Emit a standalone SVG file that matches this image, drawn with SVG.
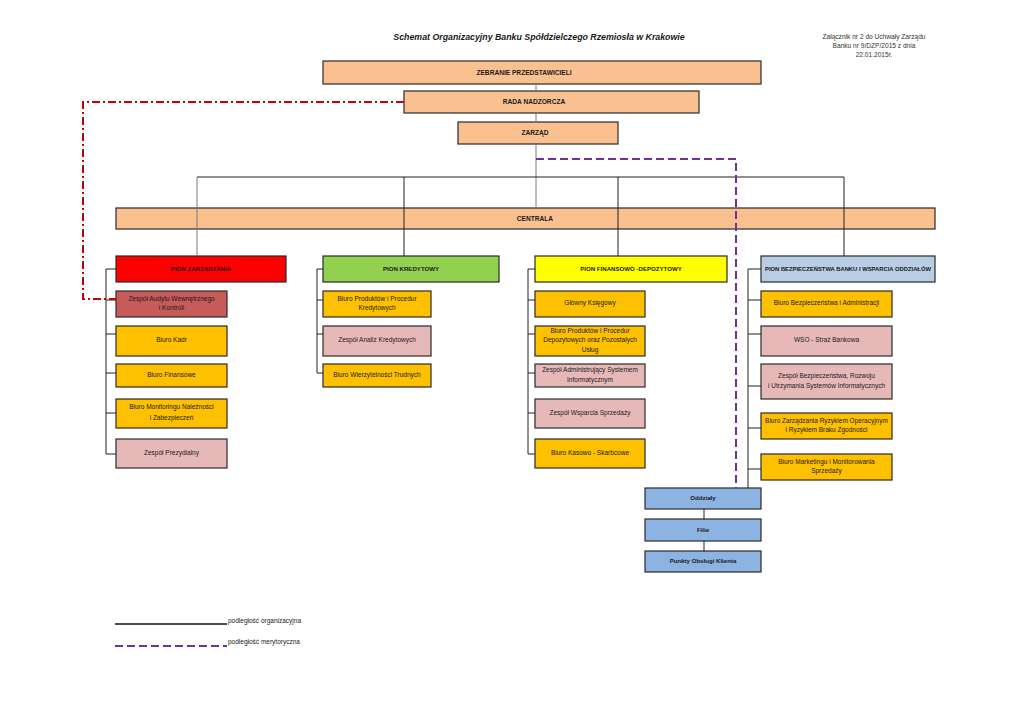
<svg xmlns="http://www.w3.org/2000/svg" width="1024" height="724" viewBox="0 0 1024 724">
<style>
.bx{stroke:#2a2a2a;stroke-width:1.2}
.peach{fill:#FAC090}.red{fill:#FF0000}.green{fill:#92D050}.yel{fill:#FFFF00}.lblue{fill:#B9CDE5}
.gold{fill:#FFC000}.pink{fill:#E6B9B8}.aud{fill:#C65B59}.blue{fill:#8DB3E2}
text{font-family:"Liberation Sans",Arial,sans-serif;fill:#1a1a1a;text-anchor:middle}
.t{font-size:6.5px}
.h{font-size:6.1px;font-weight:bold}
.top{font-size:6.6px;font-weight:bold}
.ann{font-size:6.6px;fill:#333}
.leg{font-size:6.5px;text-anchor:start}
.ln{stroke:#222;stroke-width:1;fill:none}
.gr{stroke:#7a7a7a;stroke-width:1;fill:none}
.mer{stroke:#7030A0;stroke-width:2;stroke-dasharray:8 4;fill:none}
.aud-l{stroke:#C8000A;stroke-width:2;stroke-dasharray:8 3 2 3;fill:none}
</style>

<text x="539" y="40" style="font-size:8.8px;font-weight:bold;font-style:italic">Schemat Organizacyjny Banku Spółdzielczego Rzemiosła w Krakowie</text>
<g id="annotation">
<text class="ann" x="874" y="38.5">Załącznik nr 2 do Uchwały Zarządu</text>
<text class="ann" x="874" y="47.5">Banku nr 9/DZP/2015 z dnia</text>
<text class="ann" x="874" y="57.3">22.01.2015r.</text>
</g>

<g id="n-zebranie"><rect class="bx peach" x="323" y="61" width="438" height="23"/><text class="top" x="524" y="74.8">ZEBRANIE PRZEDSTAWICIELI</text></g>
<g id="n-rada"><rect class="bx peach" x="404" y="91" width="295" height="22"/><text class="top" x="534" y="104.3">RADA NADZORCZA</text></g>
<g id="n-zarzad"><rect class="bx peach" x="458" y="122" width="160" height="22"/><text class="top" x="535" y="135.3">ZARZĄD</text></g>
<g id="n-centrala"><rect class="bx peach" x="116" y="208" width="819" height="21"/><text class="top" x="535" y="220.8">CENTRALA</text></g>

<g id="n-pion-zarz"><rect class="bx red" x="116" y="256" width="170" height="26"/><text class="h" x="201" y="271.2">PION ZARZĄDZANIA</text></g>
<g id="n-pion-kred"><rect class="bx green" x="323" y="256" width="176" height="26"/><text class="h" x="411" y="271.2">PION KREDYTOWY</text></g>
<g id="n-pion-fin"><rect class="bx yel" x="535" y="256" width="192" height="26"/><text class="h" x="631" y="271.2">PION FINANSOWO -DEPOZYTOWY</text></g>
<g id="n-pion-bezp"><rect class="bx lblue" x="761" y="256" width="174" height="26"/><text class="h" x="848" y="271.2" style="font-size:5.85px">PION BEZPIECZEŃSTWA BANKU I WSPARCIA ODDZIAŁÓW</text></g>

<g id="n-audyt"><rect class="bx aud" x="116" y="291" width="111" height="26"/><text class="t" x="171.5" y="300.7">Zespół Audytu Wewnętrznego</text><text class="t" x="171.5" y="310.3">i Kontroli</text></g>
<g id="n-kadr"><rect class="bx gold" x="116" y="326" width="111" height="30"/><text class="t" x="171.5" y="342">Biuro Kadr</text></g>
<g id="n-finansowe"><rect class="bx gold" x="116" y="364" width="111" height="23"/><text class="t" x="171.5" y="377.3">Biuro Finansowe</text></g>
<g id="n-monitoring"><rect class="bx gold" x="116" y="399" width="111" height="29"/><text class="t" x="171.5" y="409">Biuro Monitoringu Należności</text><text class="t" x="171.5" y="419.6">i Zabezpieczeń</text></g>
<g id="n-prezydialny"><rect class="bx pink" x="116" y="439" width="111" height="29"/><text class="t" x="171.5" y="454.6">Zespół Prezydialny</text></g>

<g id="n-prod-kred"><rect class="bx gold" x="323" y="291" width="108" height="26"/><text class="t" x="377" y="300.6">Biuro Produktów i Procedur</text><text class="t" x="377" y="310">Kredytowych</text></g>
<g id="n-analiz"><rect class="bx pink" x="323" y="326" width="108" height="30"/><text class="t" x="377" y="342">Zespół Analiz Kredytowych</text></g>
<g id="n-wierzyt"><rect class="bx gold" x="323" y="364" width="108" height="23"/><text class="t" x="377" y="377.3">Biuro Wierzytelności Trudnych</text></g>

<g id="n-glowny"><rect class="bx gold" x="535" y="291" width="110" height="26"/><text class="t" x="590" y="305.3">Główny Księgowy</text></g>
<g id="n-prod-dep"><rect class="bx gold" x="535" y="326" width="110" height="30"/><text class="t" x="590" y="332.6">Biuro Produktów i Procedur</text><text class="t" x="590" y="342.3">Depozytowych oraz Pozostałych</text><text class="t" x="590" y="352">Usług</text></g>
<g id="n-admin-sys"><rect class="bx pink" x="535" y="364" width="110" height="23"/><text class="t" x="590" y="372.3">Zespół Administrujący Systemem</text><text class="t" x="590" y="381.6">Informatycznym</text></g>
<g id="n-wsparcia"><rect class="bx pink" x="535" y="399" width="110" height="29"/><text class="t" x="590" y="415.3">Zespół Wsparcia Sprzedaży</text></g>
<g id="n-kasowo"><rect class="bx gold" x="535" y="439" width="110" height="29"/><text class="t" x="590" y="454.6">Biuro Kasowo - Skarbcowe</text></g>

<g id="n-bezp-admin"><rect class="bx gold" x="761" y="291" width="131" height="26"/><text class="t" x="826.5" y="305.3">Biuro Bezpieczeństwa i Administracji</text></g>
<g id="n-wso"><rect class="bx pink" x="761" y="326" width="131" height="30"/><text class="t" x="826.5" y="342">WSO - Straż Bankowa</text></g>
<g id="n-zesp-bezp"><rect class="bx pink" x="761" y="364" width="131" height="35"/><text class="t" x="826.5" y="378.3">Zespół Bezpieczeństwa, Rozwoju</text><text class="t" x="826.5" y="388">i Utrzymania Systemów Informatycznych</text></g>
<g id="n-ryzyko"><rect class="bx gold" x="761" y="413" width="131" height="26"/><text class="t" x="826.5" y="422.6">Biuro Zarządzania Ryzykiem Operacyjnym</text><text class="t" x="826.5" y="432">i Ryzykiem Braku Zgodności</text></g>
<g id="n-marketing"><rect class="bx gold" x="761" y="454" width="131" height="26"/><text class="t" x="826.5" y="463.6">Biuro Marketingu i Monitorowania</text><text class="t" x="826.5" y="473">Sprzedaży</text></g>

<g id="n-oddzialy"><rect class="bx blue" x="645" y="488" width="116" height="21"/><text class="h" x="703" y="500.3">Oddziały</text></g>
<g id="n-filie"><rect class="bx blue" x="645" y="519" width="116" height="22"/><text class="h" x="703" y="531.6">Filie</text></g>
<g id="n-punkty"><rect class="bx blue" x="645" y="551" width="116" height="21"/><text class="h" x="703" y="563">Punkty Obsługi Klienta</text></g>

<g id="connectors">
<path class="gr" d="M536,84V91M536,113V122M536,144V208"/>
<path class="ln" d="M197,177H844"/>
<path class="gr" d="M197,177V256"/>
<path class="ln" d="M404,177V256M618,177V256M844,177V256"/>
<path class="ln" d="M116,269H106V454H116M106,300H116M106,334H116M106,373H116M106,413H116"/>
<path class="ln" d="M323,269H317V373H323M317,300H323M317,334H323"/>
<path class="ln" d="M535,269H528V454H535M528,300H535M528,334H535M528,373H535M528,413H535"/>
<path class="ln" d="M761,269H748V488M748,300H761M748,334H761M748,386H761M748,428H761M748,469H761"/>
<path class="ln" d="M704,509V519M704,541V551"/>
<path class="aud-l" d="M404,102H83V299H116"/>
<path class="mer" d="M536,159H736V488"/>
</g>

<g id="legend">
<path stroke="#111" stroke-width="1.4" d="M115,624H227"/>
<text class="leg" x="228" y="623">podległość organizacyjna</text>
<path class="mer" d="M115,646H227"/>
<text class="leg" x="228" y="643.5">podległość merytoryczna</text>
</g>
</svg>
